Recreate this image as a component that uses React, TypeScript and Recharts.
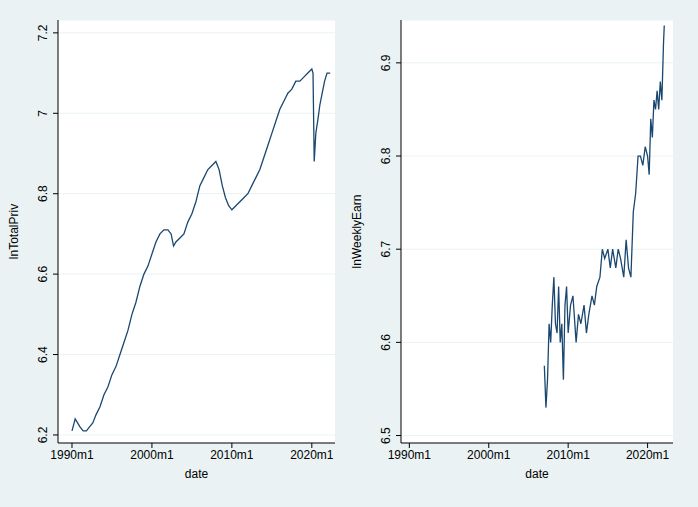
import React from 'react';
import { LineChart, Line, XAxis, YAxis, CartesianGrid } from 'recharts';

const privX = [1990,1990.4,1990.7,1991,1991.4,1991.8,1992.2,1992.6,1993,1993.5,1994,1994.5,1995,1995.5,1996,1996.5,1997,1997.5,1998,1998.5,1999,1999.5,2000,2000.5,2001,2001.5,2002,2002.4,2002.7,2003,2003.5,2004,2004.5,2005,2005.5,2006,2006.5,2007,2007.5,2008,2008.4,2008.8,2009.2,2009.6,2010,2010.5,2011,2011.5,2012,2012.5,2013,2013.5,2014,2014.5,2015,2015.5,2016,2016.5,2017,2017.5,2018,2018.5,2019,2019.5,2020,2020.15,2020.3,2020.5,2020.8,2021,2021.3,2021.6,2021.9,2022.1,2022.3];
const privY = [6.21,6.24,6.23,6.22,6.21,6.21,6.22,6.23,6.25,6.27,6.3,6.32,6.35,6.37,6.4,6.43,6.46,6.5,6.53,6.57,6.6,6.62,6.65,6.68,6.7,6.71,6.71,6.7,6.67,6.68,6.69,6.7,6.73,6.75,6.78,6.82,6.84,6.86,6.87,6.88,6.86,6.82,6.79,6.77,6.76,6.77,6.78,6.79,6.8,6.82,6.84,6.86,6.89,6.92,6.95,6.98,7.01,7.03,7.05,7.06,7.08,7.08,7.09,7.1,7.11,7.1,6.88,6.95,6.99,7.02,7.05,7.08,7.1,7.1,7.1];

const earnX = [2007,2007.2,2007.4,2007.6,2007.8,2008,2008.2,2008.4,2008.6,2008.8,2009,2009.2,2009.4,2009.6,2009.8,2010,2010.3,2010.6,2011,2011.3,2011.6,2012,2012.3,2012.6,2013,2013.3,2013.6,2014,2014.3,2014.6,2015,2015.3,2015.6,2016,2016.3,2016.6,2017,2017.3,2017.6,2017.9,2018.2,2018.5,2018.8,2019.1,2019.4,2019.7,2020,2020.2,2020.4,2020.6,2020.8,2021,2021.2,2021.4,2021.6,2021.8,2022,2022.1];
const earnY = [6.575,6.53,6.56,6.62,6.6,6.64,6.67,6.62,6.61,6.66,6.6,6.62,6.56,6.64,6.66,6.61,6.64,6.65,6.6,6.63,6.62,6.64,6.61,6.63,6.65,6.64,6.66,6.67,6.7,6.69,6.7,6.68,6.7,6.68,6.7,6.69,6.67,6.71,6.68,6.67,6.74,6.76,6.8,6.8,6.79,6.81,6.8,6.78,6.84,6.82,6.86,6.85,6.87,6.85,6.88,6.86,6.92,6.94];

const xTicks = [1990, 2000, 2010, 2020];
const privTicks = [6.2, 6.4, 6.6, 6.8, 7, 7.2];
const earnTicks = [6.5, 6.6, 6.7, 6.8, 6.9];

const privData = privX.map((x, i) => ({ x, y: privY[i] }));
const earnData = earnX.map((x, i) => ({ x, y: earnY[i] }));

const font = 'Liberation Sans, Arial, sans-serif';

const YTick = (props: any) => {
  const { x, y, payload } = props;
  return (
    <text x={x - 4} y={y} transform={`rotate(-90 ${x - 4} ${y})`} textAnchor="middle" fontSize={12} fill="#000" fontFamily={font}>
      {String(payload.value)}
    </text>
  );
};

function Panel({ data, ticks, domain, label, left, width, xDomain }: any) {
  return (
    <div style={{ position: 'absolute', left, top: 0 }}>
      <LineChart width={width} height={507} data={data} margin={{ top: 20, right: 8, left: 0, bottom: 0 }}>
        <CartesianGrid vertical={false} stroke="#eaf2f3" fill="#ffffff" />
        <XAxis dataKey="x" type="number" domain={xDomain} ticks={xTicks} allowDataOverflow height={64}
          tickFormatter={(v: number) => `${v}m1`} stroke="#000" tick={{ fontSize: 12, fill: '#000', fontFamily: font }} tickSize={5}
          label={{ value: 'date', position: 'insideTop', offset: 26, fontSize: 12, fill: '#000', fontFamily: font }} />
        <YAxis type="number" domain={domain} ticks={ticks} allowDataOverflow width={58} stroke="#000" tick={<YTick />} tickSize={5}
          label={{ value: label, angle: -90, position: 'insideLeft', offset: 14, fontSize: 12, fill: '#000', fontFamily: font, style: { textAnchor: 'middle' } }} />
        <Line dataKey="y" stroke="#1a476f" strokeWidth={1.3} dot={false} isAnimationActive={false} />
      </LineChart>
    </div>
  );
}

export default function App() {
  return (
    <div style={{ position: 'absolute', left: 0, top: 0, width: 698, height: 507, background: '#eaf2f3', overflow: 'hidden' }}>
      <Panel data={privData} ticks={privTicks} domain={[6.18, 7.232]} label="lnTotalPriv" left={0} width={343} xDomain={[1988.25, 2022.9]} />
      <Panel data={earnData} ticks={earnTicks} domain={[6.492, 6.946]} label="lnWeeklyEarn" left={343} width={338} xDomain={[1988.95, 2023.2]} />
    </div>
  );
}
